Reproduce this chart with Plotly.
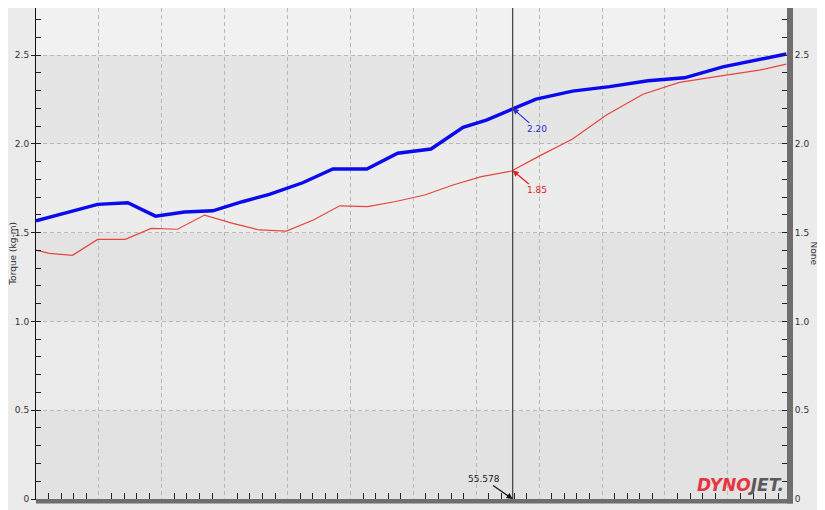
import plotly.graph_objects as go

# ------------------ Data ------------------
blue_x = [48.00, 48.98, 49.46, 49.90, 50.36, 50.81, 51.28, 51.71, 52.24, 52.72, 53.26,
          53.75, 54.28, 54.79, 55.16, 55.95, 56.53, 57.12, 57.73, 58.31, 58.92, 59.42, 59.93]
blue_y = [1.567, 1.659, 1.668, 1.593, 1.616, 1.623, 1.674, 1.716, 1.781, 1.858, 1.858,
          1.947, 1.971, 2.093, 2.134, 2.252, 2.297, 2.322, 2.355, 2.372, 2.434, 2.472, 2.506]

red_x = [48.00, 48.21, 48.58, 48.98, 49.42, 49.83, 50.25, 50.68, 51.13, 51.55, 51.98, 52.41,
         52.83, 53.27, 53.70, 54.18, 54.63, 55.08, 55.56, 56.00, 56.53, 57.07, 57.65, 58.23,
         58.97, 59.50, 59.93]
red_y = [1.402, 1.383, 1.372, 1.462, 1.462, 1.524, 1.519, 1.599, 1.552, 1.515, 1.509, 1.571,
         1.651, 1.646, 1.674, 1.712, 1.768, 1.815, 1.847, 1.931, 2.027, 2.162, 2.279, 2.346,
         2.387, 2.415, 2.449]

cursor_x = 55.578
cursor_blue = 2.20
cursor_red = 1.85

x_range = [48, 59.94]
y_range = [0, 2.765]
y_tickvals = [0, 0.5, 1.0, 1.5, 2.0, 2.5]
y_ticktext = ["0", "0.5", "1.0", "1.5", "2.0", "2.5"]

# horizontal background bands (bottom, top, colour)
bands = [(0.0, 0.5, "#e2e2e2"), (0.5, 1.0, "#ebebeb"), (1.0, 1.5, "#e3e3e3"),
         (1.5, 2.0, "#ececec"), (2.0, 2.5, "#e5e5e5"), (2.5, 2.765, "#f1f1f1")]

FONT = "DejaVu Sans"
TXT = "#333333"

# ------------------ Figure ------------------
fig = go.Figure()
fig.add_trace(go.Scatter(x=red_x, y=red_y, mode="lines",
                         line=dict(color="#e5463e", width=1.2), showlegend=False))
fig.add_trace(go.Scatter(x=blue_x, y=blue_y, mode="lines",
                         line=dict(color="#0a0aec", width=3.4), showlegend=False))
# invisible trace to activate right axis
fig.add_trace(go.Scatter(x=[x_range[0]], y=[0], yaxis="y2", mode="markers",
                         marker=dict(opacity=0), showlegend=False, hoverinfo="skip"))

for y0, y1, col in bands:
    fig.add_shape(type="rect", xref="paper", yref="y", x0=0, x1=1, y0=y0, y1=y1,
                  fillcolor=col, line_width=0, layer="below")

# cursor line
fig.add_shape(type="line", xref="x", yref="paper", x0=cursor_x, x1=cursor_x, y0=0, y1=1,
              line=dict(color="#4a4a4a", width=1.3))

# axis bars (bottom and right)
fig.add_shape(type="rect", xref="paper", yref="paper", x0=0, x1=1.008, y0=-0.009, y1=0,
              fillcolor="#6e6e6e", line_width=0, layer="above")
fig.add_shape(type="rect", xref="paper", yref="paper", x0=1, x1=1.008, y0=-0.009, y1=1.0,
              fillcolor="#6e6e6e", line_width=0, layer="above")

fig.add_annotation(x=cursor_x, y=cursor_blue, text=f"{cursor_blue:.2f}", showarrow=True,
                   ax=24, ay=21, arrowhead=2, arrowsize=1, arrowwidth=1.2, arrowcolor="#2a2ad0",
                   font=dict(family=FONT, size=9, color="#2a2ad0"))
fig.add_annotation(x=cursor_x, y=cursor_red, text=f"{cursor_red:.2f}", showarrow=True,
                   ax=24, ay=20, arrowhead=2, arrowsize=1, arrowwidth=1.2, arrowcolor="#e02020",
                   font=dict(family=FONT, size=9, color="#e02020"))
fig.add_annotation(x=cursor_x, y=0, text=f"{cursor_x:.3f}", showarrow=True,
                   ax=-29, ay=-20, arrowhead=2, arrowsize=1, arrowwidth=1.2, arrowcolor="#111111",
                   font=dict(family=FONT, size=9, color="#222222"))

# axis titles
fig.add_annotation(xref="paper", yref="paper", x=-0.0315, y=0.5, xanchor="center", yanchor="middle",
                   text="Torque (kg-m)", textangle=-90, showarrow=False,
                   font=dict(family=FONT, size=9, color=TXT))
fig.add_annotation(xref="paper", yref="paper", x=1.036, y=0.5, xanchor="center", yanchor="middle",
                   text="None", textangle=90, showarrow=False,
                   font=dict(family=FONT, size=9, color=TXT))

# logo
fig.add_annotation(xref="paper", yref="paper", x=0.999, y=0.004, xanchor="right", yanchor="bottom",
                   text="<b><i><span style='color:#e8343f'>DYNO</span>"
                        "<span style='color:#5a5a5a'>JET.</span></i></b>",
                   showarrow=False, font=dict(family=FONT, size=17))

axis_common = dict(showline=True, linecolor="#111111", linewidth=1,
                   tickfont=dict(family=FONT, size=9, color=TXT), zeroline=False)

fig.update_layout(
    width=825, height=510,
    margin=dict(l=28, r=46, t=0, b=19),
    paper_bgcolor="#ebebeb", plot_bgcolor="#ebebeb",
    template="none",
    xaxis=dict(range=x_range, dtick=1, tick0=48, ticks="", mirror=True,
               showgrid=True, gridcolor="#b8b8b8", griddash="4px,3px", gridwidth=1,
               automargin=False, ticklabelstandoff=6,
               minor=dict(dtick=0.2, ticks="inside", ticklen=6, tickcolor="#222222", showgrid=False),
               **axis_common),
    yaxis=dict(range=y_range, tickvals=y_tickvals, ticktext=y_ticktext,
               ticks="outside", ticklen=4, tickcolor="#222222",
               showgrid=True, gridcolor="#b8b8b8", griddash="4px,3px", gridwidth=1,
               automargin=False,
               minor=dict(dtick=0.1, ticks="inside", ticklen=5, tickcolor="#222222", showgrid=False),
               **axis_common),
    yaxis2=dict(range=y_range, tickvals=y_tickvals, ticktext=y_ticktext,
                overlaying="y", side="right",
                ticks="outside", ticklen=5, tickcolor="#222222", showgrid=False,
                automargin=False,
                minor=dict(dtick=0.1, ticks="inside", ticklen=5, tickcolor="#222222"),
                **axis_common),
)

fig.write_html("out.html")
